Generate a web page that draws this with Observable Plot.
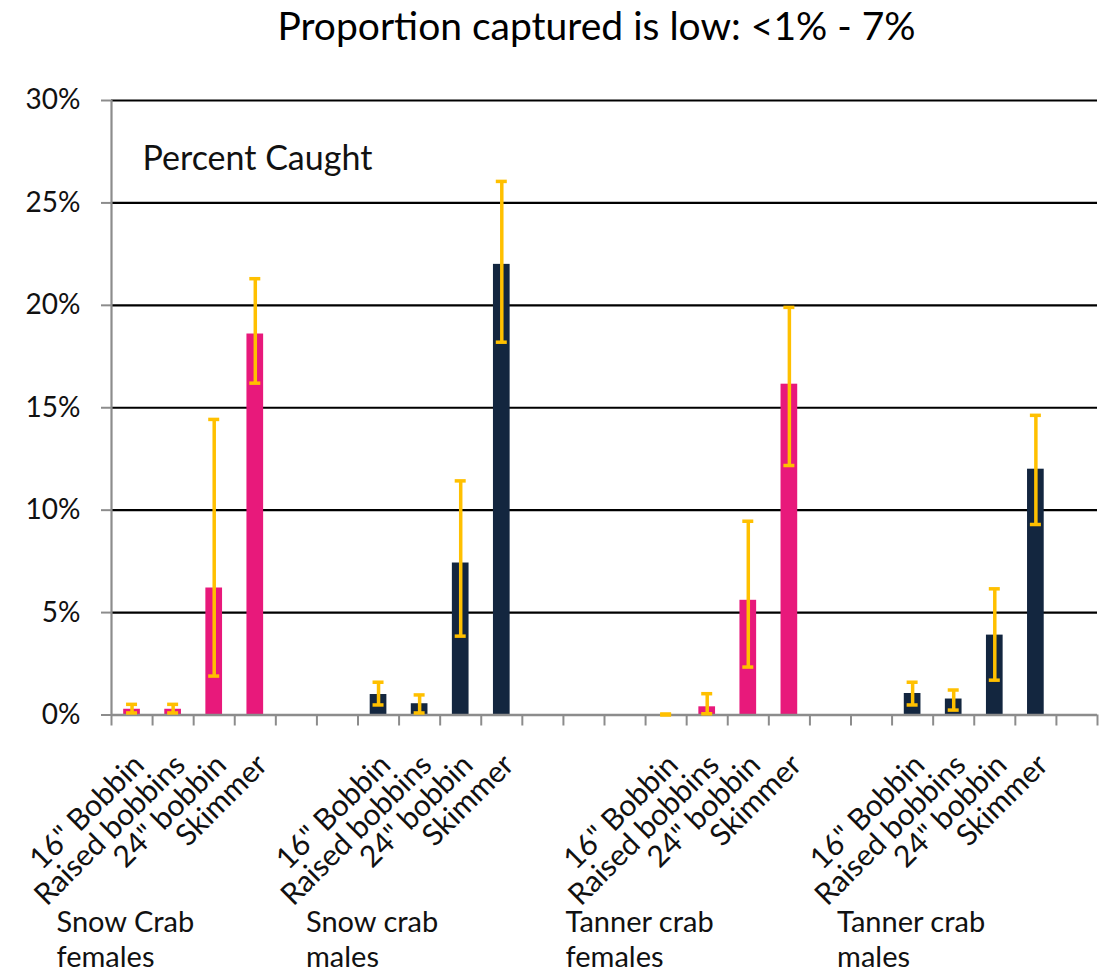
<!DOCTYPE html>
<html><head><meta charset="utf-8">
<script src="https://cdn.jsdelivr.net/npm/d3@7"></script>
<script src="https://cdn.jsdelivr.net/npm/@observablehq/plot@0.6"></script>
<style>
html,body{margin:0;padding:0;background:#fff;}
#chart svg{display:block;overflow:visible;}
</style></head><body><div id="chart"></div>
<script>
// ---- data (Excel-style category slots, blanks included) ----
const chartTitle = "Proportion captured is low: <1% - 7%";
const panelNote = "Percent Caught";
const groupNames = ["Snow Crab\nfemales", "Snow crab\nmales", "Tanner crab\nfemales", "Tanner crab\nmales"];
const groupSex = ["female", "male", "female", "male"];
const slotGear = [
  '16" Bobbin', "Raised bobbins", '24" bobbin', "Skimmer", "", "",
  '16" Bobbin', "Raised bobbins", '24" bobbin', "Skimmer", "", "", "",
  '16" Bobbin', "Raised bobbins", '24" bobbin', "Skimmer", "", "",
  '16" Bobbin', "Raised bobbins", '24" bobbin', "Skimmer", ""
];
const slotGroup = [
  0, 0, 0, 0, null, null,
  1, 1, 1, 1, null, null, null,
  2, 2, 2, 2, null, null,
  3, 3, 3, 3, null
];
const percentCaught = [
  0.28, 0.28, 6.2, 18.6, null, null,
  1.0, 0.55, 7.42, 22.0, null, null, null,
  0.0, 0.4, 5.6, 16.15, null, null,
  1.05, 0.78, 3.9, 12.0, null
];
const errLow = [
  0.1, 0.1, 1.9, 16.2, null, null,
  0.49, 0.1, 3.85, 18.2, null, null, null,
  0.0, 0.06, 2.34, 12.18, null, null,
  0.49, 0.24, 1.7, 9.3, null
];
const errHigh = [
  0.52, 0.52, 14.43, 21.3, null, null,
  1.6, 0.98, 11.43, 26.05, null, null, null,
  0.05, 1.04, 9.46, 19.9, null, null,
  1.6, 1.22, 6.16, 14.63, null
];
const yTicks = [0, 5, 10, 15, 20, 25, 30];

// ---- derived table ----
const rows = slotGear.map((gear, i) => ({
  slot: i, gear, group: slotGroup[i],
  sex: slotGroup[i] == null ? null : groupSex[slotGroup[i]],
  value: percentCaught[i], lo: errLow[i], hi: errHigh[i]
})).filter(d => d.value != null);
const groupStart = groupNames.map((g, k) => d3.min(rows.filter(r => r.group === k), r => r.slot));

const font = "Lato, 'Open Sans', sans-serif";
const gray = "#8c8c8c";

const plot = Plot.plot({
  width: 1106,
  height: 978,
  marginLeft: 111,
  marginRight: 9,
  marginTop: 100,
  marginBottom: 263.5,
  style: {fontFamily: font, background: "#fff", color: "#000"},
  x: {type: "linear", domain: [0, slotGear.length], axis: null},
  y: {domain: [0, 30], axis: null},
  color: {domain: ["female", "male"], range: ["#E8197B", "#13263F"]},
  marks: [
    // gridlines
    Plot.ruleY(yTicks.filter(t => t > 0), {stroke: "#000", strokeWidth: 2.2}),
    // y axis ticks & labels
    Plot.axisY({ticks: yTicks, tickFormat: d => d + "%", tickSize: 10, tickPadding: 21,
      fontSize: 28, stroke: gray, strokeWidth: 2, fill: "#111", label: null}),
    Plot.ruleX([0], {stroke: gray, strokeWidth: 2.2}),
    // bars
    Plot.rect(rows, {x1: "slot", x2: d => d.slot + 1, y1: 0, y2: "value",
      fill: "sex", insetLeft: 12.2, insetRight: 12.2}),
    // x axis line and boundary ticks
    Plot.ruleY([0], {stroke: gray, strokeWidth: 2.5}),
    Plot.axisX({ticks: d3.range(slotGear.length + 1), tickFormat: () => "", tickSize: 11,
      stroke: gray, strokeWidth: 2, label: null}),
    // error bars
    Plot.ruleX(rows, {x: d => d.slot + 0.5, y1: "lo", y2: "hi", stroke: "#FFC000", strokeWidth: 3.5}),
    Plot.ruleY(rows, {x1: d => d.slot + 0.5, x2: d => d.slot + 0.5, y: "lo", stroke: "#FFC000",
      strokeWidth: 3.5, insetLeft: -5.5, insetRight: -5.5}),
    Plot.ruleY(rows, {x1: d => d.slot + 0.5, x2: d => d.slot + 0.5, y: "hi", stroke: "#FFC000",
      strokeWidth: 3.5, insetLeft: -5.5, insetRight: -5.5}),
    // rotated category labels
    Plot.text(rows, {x: d => d.slot + 0.5, y: 0, text: "gear", rotate: -45, textAnchor: "end",
      lineAnchor: "middle", dx: 7, dy: 45, fontSize: 30, fill: "#111"}),
    // group labels
    ...groupNames.map((g, k) => Plot.text([g], {x: groupStart[k], y: 0, text: d => d,
      textAnchor: "start", lineAnchor: "bottom", lineHeight: 1.2,
      dx: [-55, -52, -80, -55][k], dy: 251.5, fontSize: 29, fill: "#111"})),
    // in-panel note
    Plot.text([panelNote], {frameAnchor: "top-left", textAnchor: "start", lineAnchor: "bottom",
      dx: 31, dy: 69, fontSize: 34, fill: "#111"}),
    // title
    Plot.text([chartTitle], {frameAnchor: "top", textAnchor: "middle", lineAnchor: "bottom",
      dx: -8, dy: -60.5, fontSize: 39, fill: "#000"})
  ]
});
document.getElementById("chart").appendChild(plot);
</script>
</body></html>
